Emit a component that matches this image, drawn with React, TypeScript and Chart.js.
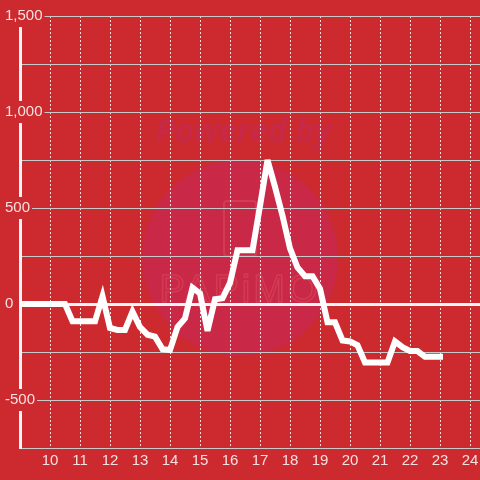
import React, { useEffect, useRef } from "react";
import { Chart, registerables } from "chart.js";

Chart.register(...registerables);

const BG = "#CC2A2F";
const LABEL_COLOR = "rgba(255,255,255,0.85)";

// quarter-hour timestamps (decimal hours)
const times = [
  9, 9.25, 9.5, 9.75, 10, 10.25, 10.5, 10.75, 11, 11.25, 11.5, 11.75,
  12, 12.25, 12.5, 12.75, 13, 13.25, 13.5, 13.75, 14, 14.25, 14.5, 14.75,
  15, 15.25, 15.5, 15.75, 16, 16.25, 16.5, 16.75, 17, 17.25, 17.5, 17.75,
  18, 18.25, 18.5, 18.75, 19, 19.25, 19.5, 19.75, 20, 20.25, 20.5, 20.75,
  21, 21.25, 21.5, 21.75, 22, 22.25, 22.5, 22.75, 23,
];

const values = [
  0, 0, 0, 0, 0, 0, 0, -90, -90, -90, -90, 40,
  -125, -135, -135, -40, -120, -160, -170, -235, -240, -120, -75, 85,
  55, -140, 25, 30, 110, 280, 280, 280, 510, 750, 610, 460,
  290, 190, 145, 145, 80, -95, -95, -190, -195, -215, -305, -305,
  -305, -305, -195, -225, -245, -245, -275, -275, -275,
];

const xTicks = [9, 10, 11, 12, 13, 14, 15, 16, 17, 18, 19, 20, 21, 22, 23, 24];
const yTicks = [-750, -500, -250, 0, 250, 500, 750, 1000, 1250, 1500];

const bgPlugin = {
  id: "bgWatermark",
  beforeDraw(chart: any) {
    const ctx = chart.ctx;
    ctx.save();
    ctx.fillStyle = BG;
    ctx.fillRect(0, 0, chart.width, chart.height);
    // watermark circle
    ctx.fillStyle = "#CA2847";
    ctx.beginPath();
    ctx.arc(240, 258, 98, 0, Math.PI * 2);
    ctx.fill();
    // "Powered by"
    ctx.fillStyle = "#C72946";
    ctx.font = "italic bold 32px 'Open Sans'";
    ctx.textAlign = "center";
    ctx.textBaseline = "alphabetic";
    ctx.fillText("Powered by", 243, 142);
    // logo outline
    ctx.strokeStyle = "rgba(225,95,110,0.35)";
    ctx.lineWidth = 2;
    ctx.beginPath();
    (ctx as any).roundRect(224, 201, 32, 55, 3);
    ctx.stroke();
    ctx.lineWidth = 1.5;
    ctx.font = "38px 'Liberation Sans'";
    (ctx as any).letterSpacing = "3px";
    ctx.strokeText("PAPiMO", 240, 302);
    ctx.restore();
  },
  beforeDatasetsDraw(chart: any) {
    chart.ctx.miterLimit = 4;
  },
  afterDatasetsDraw(chart: any) {
    chart.ctx.miterLimit = 10;
  },
};

export default function App() {
  const ref = useRef<HTMLCanvasElement | null>(null);

  useEffect(() => {
    document.body.style.margin = "0";
    document.body.style.background = BG;
    const canvas = ref.current;
    if (!canvas) return;
    const font = { family: "'Liberation Sans', Arial, sans-serif", size: 15 };
    const chart = new Chart(canvas, {
      type: "line",
      data: {
        datasets: [
          {
            data: times.map((t, i) => ({ x: t, y: values[i] })),
            borderColor: "#ffffff",
            borderWidth: 6,
            pointRadius: 0,
            tension: 0,
            borderCapStyle: "square",
            borderJoinStyle: "miter",
            fill: false,
          },
        ],
      },
      options: {
        animation: false,
        responsive: false,
        events: [],
        layout: { padding: { left: 5, right: 0, top: 16, bottom: 6 } },
        plugins: { legend: { display: false }, tooltip: { enabled: false } },
        scales: {
          x: {
            type: "linear",
            min: 9,
            max: 24 + 1 / 3,
            afterBuildTicks: (axis: any) => {
              axis.ticks = xTicks.map((v) => ({ value: v }));
            },
            afterFit: (s: any) => {
              s.paddingLeft = 0;
              s.paddingRight = 0;
            },
            grid: {
              color: (c: any) =>
                c.tick && c.tick.value === 9 ? "rgba(0,0,0,0)" : "rgba(255,255,255,0.85)",
              lineWidth: 1,
              drawTicks: false,
            },
            border: { color: "#c9c9c9", width: 1, dash: [2, 2] },
            ticks: {
              padding: 4,
              color: LABEL_COLOR,
              font,
              autoSkip: false,
              maxRotation: 0,
              callback: (v: any) => (v === 9 ? "" : String(v)),
            },
          },
          y: {
            min: -750,
            max: 1500,
            afterBuildTicks: (axis: any) => {
              axis.ticks = yTicks.map((v) => ({ value: v }));
            },
            afterFit: (s: any) => {
              s.width = 15;
              s.paddingTop = 0;
              s.paddingBottom = 0;
            },
            grid: {
              color: (c: any) => (c.tick && c.tick.value === 0 ? "#f5f5f5" : "#c9c9c9"),
              lineWidth: (c: any) => (c.tick && c.tick.value === 0 ? 3 : 1),
              drawTicks: false,
            },
            border: { color: "#f5f5f5", width: 3 },
            ticks: {
              mirror: true,
              padding: -15,
              crossAlign: "near",
              color: LABEL_COLOR,
              font,
              showLabelBackdrop: true,
              backdropColor: BG,
              backdropPadding: 2,
              callback: (v: any) =>
                v % 500 === 0 ? Number(v).toLocaleString("en-US") : "",
            },
          },
        },
      } as any,
      plugins: [bgPlugin],
    });
    return () => chart.destroy();
  }, []);

  return (
    <div style={{ position: "fixed", left: 0, top: 0, width: 480, height: 480 }}>
      <canvas ref={ref} width={480} height={480} style={{ display: "block" }} />
    </div>
  );
}
